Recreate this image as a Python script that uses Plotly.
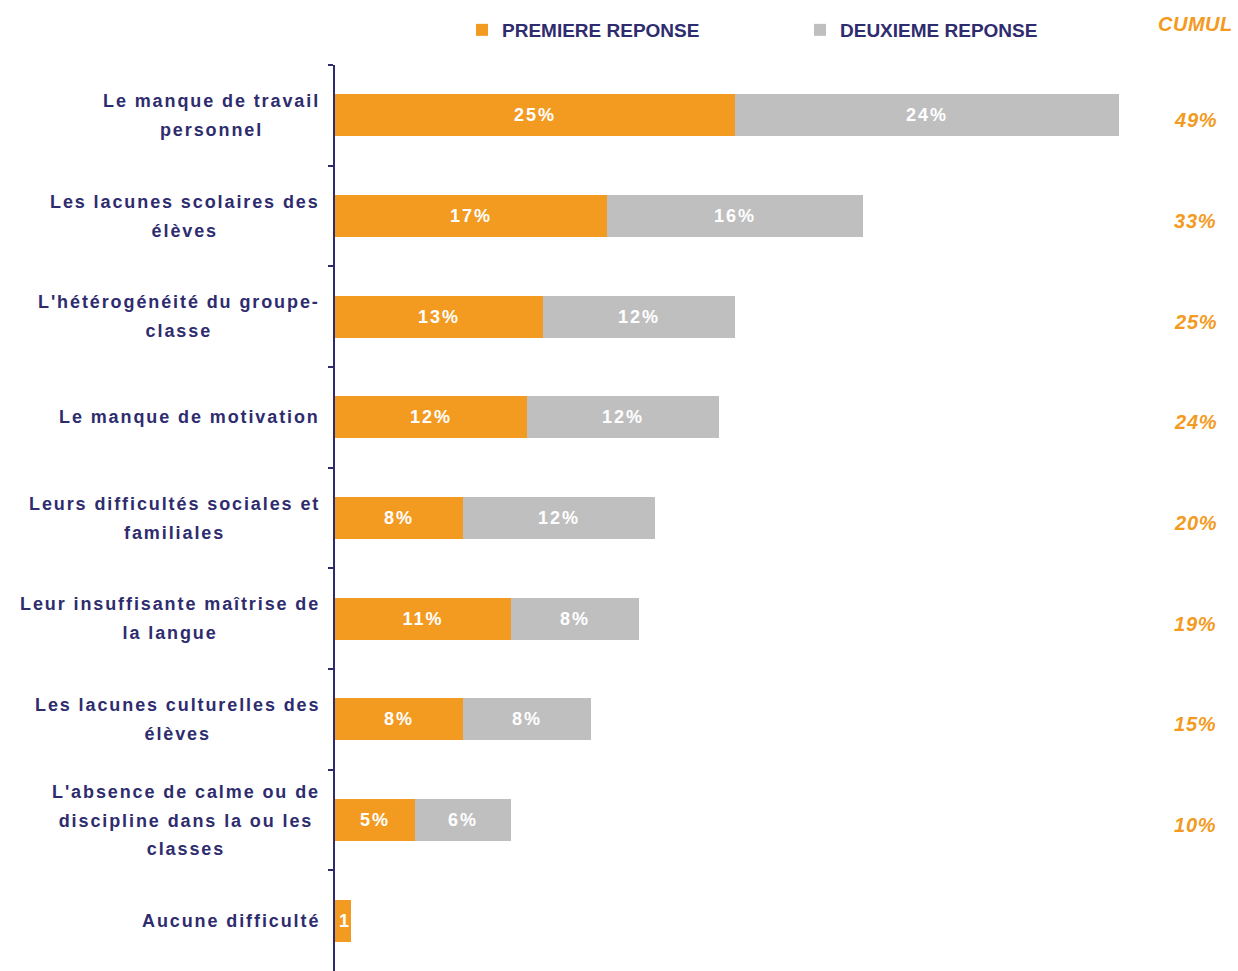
import plotly.graph_objects as go

categories = [
    "Le manque de travail\npersonnel",
    "Les lacunes scolaires des\nélèves",
    "L'hétérogénéité du groupe-\nclasse",
    "Le manque de motivation",
    "Leurs difficultés sociales et\nfamiliales",
    "Leur insuffisante maîtrise de\nla langue",
    "Les lacunes culturelles des\nélèves",
    "L'absence de calme ou de\ndiscipline dans la ou les\nclasses",
    "Aucune difficulté",
]
premiere = [25, 17, 13, 12, 8, 11, 8, 5, 1]
deuxieme = [24, 16, 12, 12, 12, 8, 8, 6, 0]
cumul = ["49%", "33%", "25%", "24%", "20%", "19%", "15%", "10%", ""]

ORANGE = "#F39A21"
GRAY = "#BFBFBF"
NAVY = "#2E2C6E"
FONT = "Liberation Sans, Arial, sans-serif"

W, H = 1238, 971
ML, MT = 335, 65
PW = W - ML
SMALL = 2  # bars narrower than this get their label anchored at the bar start


def bar_text(vals):
    return [f"<span style='letter-spacing:2px'>{v}%</span>" if v >= SMALL else "" for v in vals]


fig = go.Figure()
fig.add_trace(go.Bar(
    name="PREMIERE REPONSE", y=categories, x=premiere, orientation="h",
    marker=dict(color=ORANGE, line=dict(width=0)),
    text=bar_text(premiere),
    textposition="inside", insidetextanchor="middle", constraintext="none", textangle=0,
    textfont=dict(color="white", size=18, family=FONT, weight="bold"),
    hoverinfo="skip",
))
fig.add_trace(go.Bar(
    name="DEUXIEME REPONSE", y=categories, x=deuxieme, orientation="h",
    marker=dict(color=GRAY, line=dict(width=0)),
    text=bar_text(deuxieme),
    textposition="inside", insidetextanchor="middle", constraintext="none", textangle=0,
    textfont=dict(color="white", size=18, family=FONT, weight="bold"),
    hoverinfo="skip",
))

annotations = []
for cat, v in zip(categories, premiere):
    if 0 < v < SMALL:
        annotations.append(dict(
            xref="x", yref="y", x=0, y=cat, xanchor="left", yanchor="middle", xshift=2,
            text=f"<span style='letter-spacing:2px'>{v}%</span>", showarrow=False,
            font=dict(family=FONT, size=18, color="white", weight="bold"),
        ))
for cat in categories:
    lines = cat.split("\n")
    txt = "<br>".join(
        f"<span style='font-size:18px;letter-spacing:1.9px'>{l}</span>" for l in lines)
    annotations.append(dict(
        xref="paper", yref="y", x=-13 / PW, y=cat, xanchor="right", yanchor="middle",
        align="center", text=txt, showarrow=False,
        font=dict(family=FONT, size=22, color=NAVY, weight="bold"),
    ))
for cat, c in zip(categories, cumul):
    if c:
        annotations.append(dict(
            xref="paper", yref="y", x=(1195 - ML) / PW, y=cat, yshift=-5,
            xanchor="center", yanchor="middle",
            text=f"<i><span style='letter-spacing:0.8px'>{c}</span></i>", showarrow=False,
            font=dict(family=FONT, size=20, color=ORANGE, weight="bold"),
        ))
annotations.append(dict(
    xref="paper", yref="paper", x=(1195 - ML) / PW, y=1 + (MT - 24) / (H - MT),
    xanchor="center", yanchor="middle",
    text="<i><span style='letter-spacing:0.5px'>CUMUL</span></i>", showarrow=False,
    font=dict(family=FONT, size=20, color=ORANGE, weight="bold"),
))

fig.update_layout(
    width=W, height=H,
    margin=dict(l=ML, r=0, t=MT, b=0),
    paper_bgcolor="white", plot_bgcolor="white",
    barmode="stack", bargap=0.58,
    showlegend=True,
    legend=dict(
        orientation="h", xref="container", yref="container", traceorder="normal",
        x=462 / W, y=1 - 11 / H, xanchor="left", yanchor="top",
        font=dict(family=FONT, size=19, color=NAVY, weight="bold"),
        entrywidth=293, entrywidthmode="pixels",
        itemclick=False, itemdoubleclick=False,
    ),
    xaxis=dict(range=[0, PW / 16], visible=False, fixedrange=True),
    yaxis=dict(
        type="category", range=[8.5, -0.5], showticklabels=False,
        showline=True, linecolor=NAVY, linewidth=2,
        ticks="outside", tickson="boundaries", ticklen=5, tickcolor=NAVY, tickwidth=2,
        showgrid=False, zeroline=False, fixedrange=True,
    ),
    annotations=annotations,
)

fig.write_html("out.html", config={"displayModeBar": False},
               post_script="document.body.style.margin='0px';")
